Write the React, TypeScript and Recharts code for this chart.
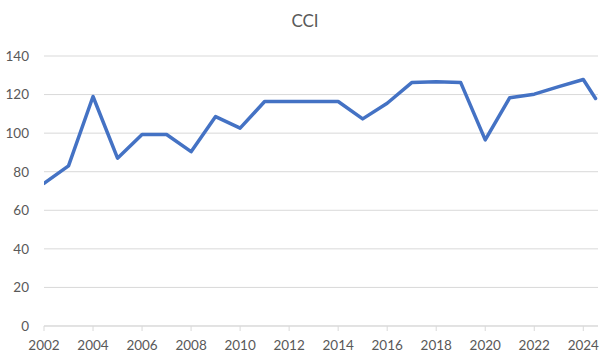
import React from "react";
import { LineChart, Line, XAxis, YAxis, CartesianGrid } from "recharts";

const years = [2002, 2003, 2004, 2005, 2006, 2007, 2008, 2009, 2010, 2011, 2012, 2013, 2014, 2015, 2016, 2017, 2018, 2019, 2020, 2021, 2022, 2023, 2024, 2024.5];
const cciValues = [74, 83, 119, 87, 99.3, 99.3, 90.4, 108.6, 102.6, 116.4, 116.4, 116.4, 116.4, 107.4, 115.5, 126.2, 126.7, 126.2, 96.5, 118.4, 120.2, 124.1, 127.8, 118];
const xTicks = [2002, 2004, 2006, 2008, 2010, 2012, 2014, 2016, 2018, 2020, 2022, 2024];
const yTicks = [0, 20, 40, 60, 80, 100, 120, 140];

const data = years.map((y, i) => ({ year: y, cci: cciValues[i] }));

const FONT = "Lato, 'Liberation Sans', sans-serif";
const TEXT = "#595959";
const GRID = "#d9d9d9";

export default function App() {
  return (
    <div style={{ position: "relative", width: 610, height: 360, background: "#fff", fontFamily: FONT }}>
      <style>{`body{margin:0;}`}</style>
      <div
        style={{
          position: "absolute",
          top: 9,
          left: 0,
          width: 610,
          textAlign: "center",
          fontSize: 17,
          color: TEXT,
          fontFamily: FONT,
          lineHeight: "24px",
        }}
      >
        CCI
      </div>
      <LineChart width={610} height={360} data={data} margin={{ top: 56, right: 12, bottom: 0, left: 0 }}>
        <CartesianGrid vertical={false} stroke={GRID} strokeWidth={1} />
        <XAxis
          dataKey="year"
          type="number"
          domain={[2002, 2024.6]}
          ticks={xTicks}
          allowDataOverflow
          height={34}
          axisLine={{ stroke: GRID }}
          tickLine={{ stroke: GRID }}
          tickSize={5}
          tickMargin={9}
          interval={0}
          tick={{ fill: TEXT, fontSize: 13.5, fontFamily: FONT }}
        />
        <YAxis
          domain={[0, 140]}
          ticks={yTicks}
          width={44}
          axisLine={false}
          tickLine={false}
          tickMargin={9}
          interval={0}
          tick={{ fill: TEXT, fontSize: 13.5, fontFamily: FONT }}
        />
        <Line
          type="linear"
          dataKey="cci"
          stroke="#4472C4"
          strokeWidth={3.5}
          strokeLinejoin="round"
          strokeLinecap="round"
          dot={false}
          activeDot={false}
          isAnimationActive={false}
        />
      </LineChart>
    </div>
  );
}
